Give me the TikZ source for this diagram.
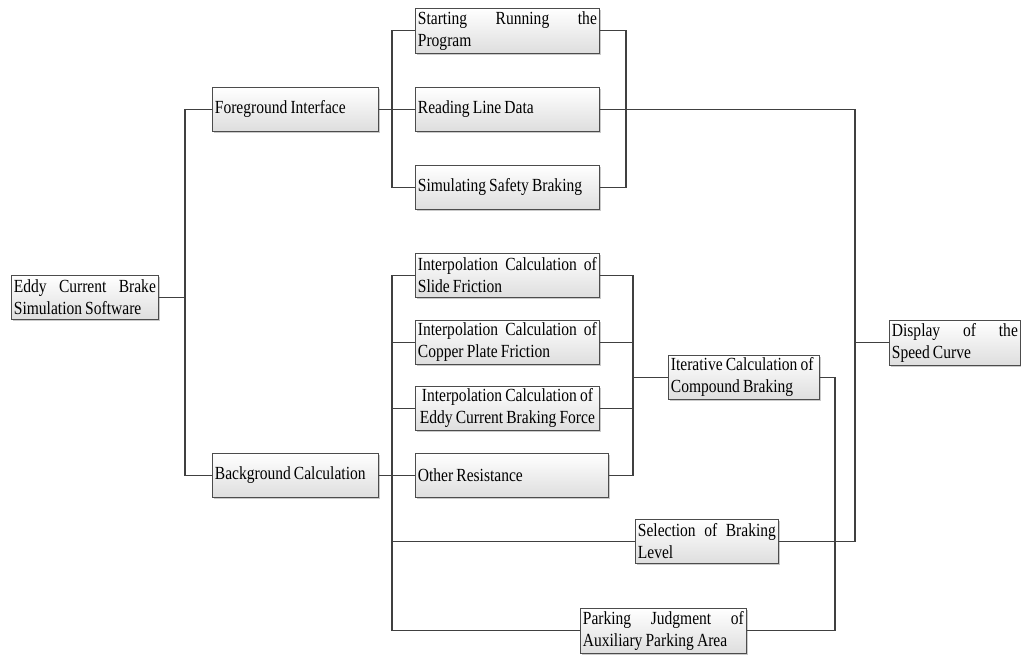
\documentclass[tikz,border=0pt]{standalone}
\usepackage{fontspec}
\setmainfont[FakeStretch=0.84,WordSpace=0.8]{Liberation Serif}
\usetikzlibrary{shadows}
\begin{document}
\begin{tikzpicture}[x=1pt,y=1pt,
  box/.style={draw=black!70, line width=0.8pt, top color=white, bottom color=black!13,
    drop shadow={shadow xshift=2pt, shadow yshift=-2pt, fill=black!35, opacity=0.6},
    anchor=north west, inner xsep=2.5pt, inner ysep=0pt, font=\fontsize{18.5}{22}\selectfont},
  conn/.style={draw=black!75, line width=1.1pt}]
\useasboundingbox (0,0) rectangle (1021,-655);
\newcommand{\mybox}[6][align=justify]{%
  \node[box,#1, minimum width=#4, minimum height=#5, text width=#4-5] (#2) at (#3) {\spaceskip=0pt\xspaceskip=0pt\relax #6};}
\mybox{eddy}{11,-275}{147}{44}{Eddy Current Brake\linebreak Simulation Software}
\mybox[align=left]{fg}{212,-87}{166}{44}{Foreground Interface}
\mybox[align=left]{bg}{212,-453}{166}{44}{Background Calculation}
\mybox{start}{415,-8}{184}{45}{Starting Running the\linebreak Program}
\mybox[align=left]{read}{415,-87}{184}{44}{Reading Line Data}
\mybox[align=left]{sim}{415,-165}{184}{44}{Simulating Safety Braking}
\mybox{slide}{415,-253}{184}{44}{Interpolation Calculation of\linebreak Slide Friction}
\mybox{copper}{415,-320}{184}{44}{Interpolation Calculation of\linebreak Copper Plate Friction}
\mybox[align=center]{force}{415,-386}{184}{44}{\mbox{Interpolation Calculation of}\\ \mbox{Eddy Current Braking Force}}
\mybox[align=left]{other}{415,-453}{193}{44}{Other Resistance}
\mybox[align=left]{iter}{668,-355}{151}{44}{\mbox{Iterative Calculation of}\\ Compound Braking}
\mybox{sel}{635,-519}{143}{44}{Selection of Braking\linebreak Level}
\mybox{park}{580,-608}{166}{45}{Parking Judgment of\linebreak Auxiliary Parking Area}
\mybox{disp}{889,-320}{131}{45}{Display of the\linebreak Speed Curve}

\coordinate (j0) at (185,0);
\coordinate (j1) at (392,0);
\coordinate (j2) at (626,0);
\coordinate (j3) at (855,0);
\coordinate (j4) at (633,0);
\coordinate (j5) at (835,0);

% root
\draw[conn] (eddy.east) -- (eddy.east -| j0);
\draw[conn] (fg.west) -| (j0 |- bg.west) -- (bg.west);
% foreground
\draw[conn] (fg.east) -- (read.west);
\draw[conn] (start.west) -| (j1 |- sim.west) -- (sim.west);
\draw[conn] (start.east) -| (j2 |- sim.east) -- (sim.east);
\draw[conn] (read.east) -| (j3 |- sel.east) -- (sel.east);
\draw[conn] (disp.west) -- (disp.west -| j3);
% background
\draw[conn] (bg.east) -- (other.west);
\draw[conn] (slide.west) -| (j1 |- park.west) -- (park.west);
\draw[conn] (copper.west) -- (copper.west -| j1);
\draw[conn] (force.west) -- (force.west -| j1);
\draw[conn] (sel.west) -- (sel.west -| j1);
\draw[conn] (slide.east) -| (j4 |- other.east) -- (other.east);
\draw[conn] (copper.east) -- (copper.east -| j4);
\draw[conn] (force.east) -- (force.east -| j4);
\draw[conn] (iter.west) -- (iter.west -| j4);
\draw[conn] (iter.east) -| (j5 |- park.east) -- (park.east);
\end{tikzpicture}
\end{document}
